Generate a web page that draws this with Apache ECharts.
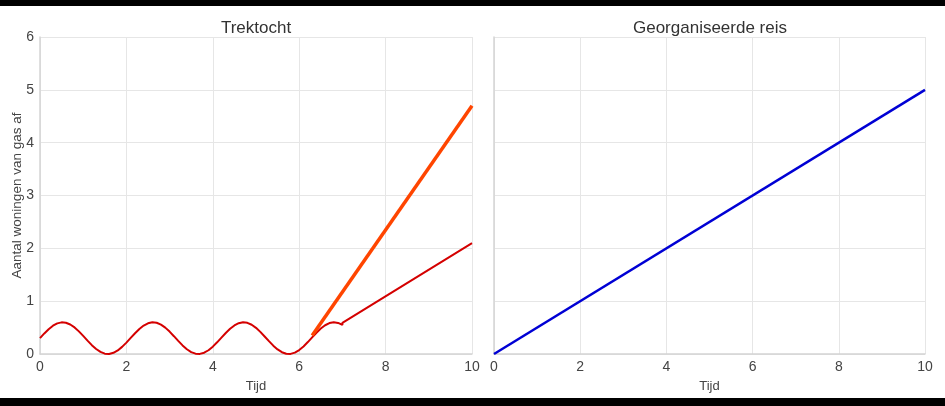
<!DOCTYPE html>
<html><head><meta charset="utf-8">
<script src="https://cdn.jsdelivr.net/npm/echarts@6/dist/echarts.min.js"></script>
<style>html,body{margin:0;padding:0;background:#fff}#c{width:945px;height:406px}</style>
</head><body><div id="c"></div>
<script>
// Trektocht: red oscillating curve then linear growth
const redX = [0,0.1,0.2,0.3,0.4,0.5,0.6,0.7,0.8,0.9,1.0,1.1,1.2,1.3,1.4,1.5,1.6,1.7,1.8,1.9,2.0,2.1,2.2,2.3,2.4,2.5,2.6,2.7,2.8,2.9,3.0,3.1,3.2,3.3,3.4,3.5,3.6,3.7,3.8,3.9,4.0,4.1,4.2,4.3,4.4,4.5,4.6,4.7,4.8,4.9,5.0,5.1,5.2,5.3,5.4,5.5,5.6,5.7,5.8,5.9,6.0,6.1,6.2,6.3,6.4,6.5,6.6,6.7,6.8,6.9,7.0,7.0,10];
const redY = [0.300,0.389,0.469,0.535,0.580,0.599,0.592,0.559,0.503,0.428,0.342,0.253,0.167,0.094,0.039,0.007,0.001,0.022,0.068,0.135,0.216,0.305,0.393,0.474,0.538,0.581,0.600,0.591,0.556,0.499,0.424,0.337,0.248,0.163,0.090,0.036,0.006,0.002,0.024,0.071,0.139,0.221,0.310,0.398,0.478,0.541,0.583,0.600,0.590,0.554,0.495,0.419,0.332,0.243,0.158,0.086,0.034,0.005,0.002,0.026,0.075,0.143,0.226,0.315,0.403,0.482,0.544,0.585,0.600,0.588,0.551,0.590,2.10];
const orangeX = [6.3, 10];
const orangeY = [0.35, 4.70];
// Georganiseerde reis
const blueX = [0, 10];
const blueY = [0, 5];
const titles = ['Trektocht', 'Georganiseerde reis'];
const yName = 'Aantal woningen van gas af';
const xName = 'Tijd';

const zip = (xs, ys) => xs.map((x, i) => [x, ys[i]]);
const font = 'Liberation Sans, Arial, sans-serif';
const chart = echarts.init(document.getElementById('c'));
const xAxisBase = (gi) => ({
  type: 'value', gridIndex: gi, min: 0, max: 10, interval: 2,
  name: xName, nameLocation: 'middle', nameGap: 26, nameMoveOverlap: false,
  nameTextStyle: {color: '#444', fontSize: 13, fontFamily: font},
  axisLine: {show: true, lineStyle: {color: '#d4d4d4', width: 1.5}},
  axisTick: {show: false},
  axisLabel: {color: '#444', fontSize: 14, fontFamily: font, margin: 6},
  splitLine: {show: true, lineStyle: {color: '#e6e6e6'}}
});
const yAxisBase = (gi, showLabels) => ({
  type: 'value', gridIndex: gi, min: 0, max: 6, interval: 1,
  name: showLabels ? yName : '', nameLocation: 'middle', nameGap: 16, nameMoveOverlap: false,
  nameTextStyle: {color: '#444', fontSize: 13.5, fontFamily: font},
  axisLine: {show: true, lineStyle: {color: '#d4d4d4', width: 1.5}},
  axisTick: {show: false},
  axisLabel: {show: showLabels, color: '#444', fontSize: 14, fontFamily: font, margin: 6},
  splitLine: {show: true, lineStyle: {color: '#e6e6e6'}}
});
chart.setOption({
  backgroundColor: '#fff',
  animation: false,
  title: [
    {text: titles[0], left: 251, top: 15, textAlign: 'center', textStyle: {color: '#333', fontSize: 17, fontWeight: 'normal', fontFamily: font}},
    {text: titles[1], left: 705, top: 15, textAlign: 'center', textStyle: {color: '#333', fontSize: 17, fontWeight: 'normal', fontFamily: font}}
  ],
  graphic: [
    {type: 'rect', left: 0, top: 0, shape: {width: 945, height: 6}, style: {fill: '#000'}},
    {type: 'rect', left: 0, top: 398, shape: {width: 945, height: 8}, style: {fill: '#000'}}
  ],
  grid: [
    {left: 40, right: 473, top: 37, bottom: 52},
    {left: 494, right: 20, top: 37, bottom: 52}
  ],
  xAxis: [xAxisBase(0), xAxisBase(1)],
  yAxis: [yAxisBase(0, true), yAxisBase(1, false)],
  series: [
    {type: 'line', xAxisIndex: 0, yAxisIndex: 0, data: zip(redX, redY), showSymbol: false, smooth: false,
     lineStyle: {color: '#d40000', width: 2}},
    {type: 'line', xAxisIndex: 0, yAxisIndex: 0, data: zip(orangeX, orangeY), showSymbol: false,
     lineStyle: {color: '#ff4500', width: 3.5}},
    {type: 'line', xAxisIndex: 1, yAxisIndex: 1, data: zip(blueX, blueY), showSymbol: false,
     lineStyle: {color: '#0000d4', width: 2.5}}
  ]
});
</script></body></html>
